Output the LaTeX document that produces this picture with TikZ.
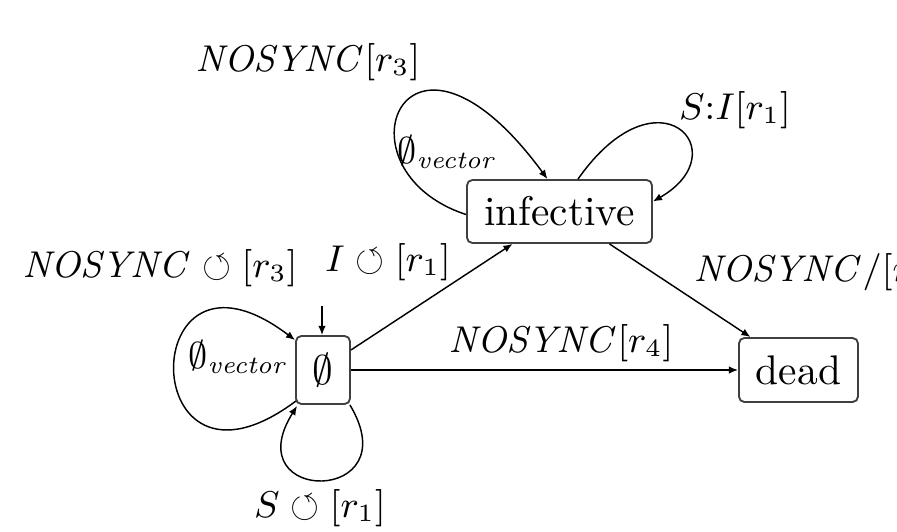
\documentclass[tikz,border=0pt]{standalone}
\usepackage{amssymb}
\usetikzlibrary{arrows.meta,calc}
\newcommand{\nsy}{\mathit{NOSYNC}}
\newcommand{\emv}{\emptyset_{\mathit{vector}}}
\begin{document}
\begin{tikzpicture}[x=0.2415pt,y=-0.2415pt,
  state/.style={draw=black!75,line width=0.45pt,rounded corners=1.3pt,inner sep=0pt,font=\normalsize},
  lbl/.style={font=\small,inner sep=0pt},
  edge/.style={line width=0.35pt,-{Latex[length=2.2pt,width=1.8pt]}}]
\useasboundingbox (0,0) rectangle (897,531);
% states
\node[state,minimum width=13.04pt,minimum height=16.42pt] (e) at (323,370) {$\emptyset$};
\node[state,minimum width=44.68pt,minimum height=15.21pt] (inf) at (559.5,211.5) {infective};
\node[state,minimum width=28.74pt,minimum height=15.46pt] (dead) at (798.5,370) {dead};
% initial arrow
\coordinate (i0) at (322,306);
\draw[edge] (i0) -- (e.north -| i0);
% straight transitions
\draw[edge] ($(e.east)+(0,-20)$) -- ($(inf.south)+(-47,0)$);
\draw[edge] (e.east) -- (dead.west);
\draw[edge] ($(inf.south)+(50,0)$) -- ($(dead.north)+(-48,0)$);
% loops on empty state
\draw[edge] ($(e.south west)+(1,-4)$) .. controls (134,522) and (134,218) .. ($(e.north west)+(0,5)$);
\draw[edge] ($(e.south east)+(-1,0)$) .. controls (410,505) and (235,505) .. ($(e.south west)+(2,1)$);
% loops on infective
\draw[edge] ($(inf.west)+(0,3)$) .. controls (330,170) and (405,-15) .. ($(inf.north)+(-12,0)$);
\draw[edge] ($(inf.north)+(18.5,0)$) .. controls (658,65) and (739,152) .. ($(inf.east)+(0,-10)$);
% labels
\node[lbl] (l1) at (308,62) {$\nsy[r_3]$};
\node[lbl] (l2) at (448,152) {$\emv$};
\node[lbl] (l3) at (735,110) {$S{:}I[r_1]$};
\node[lbl] (l4) at (160,268) {$\nsy \circlearrowleft [r_3]$};
\node[lbl] (l5) at (388,262) {$I \circlearrowleft [r_1]$};
\node[lbl] (l6) at (239,357) {$\emv$};
\node[lbl] (l7) at (561,343) {$\nsy[r_4]$};
\node[lbl] (l8) at (320,508) {$S \circlearrowleft [r_1]$};
\node[lbl,anchor=west] (l9) at (693,272) {$\nsy/[r_2]$};
\end{tikzpicture}
\end{document}
